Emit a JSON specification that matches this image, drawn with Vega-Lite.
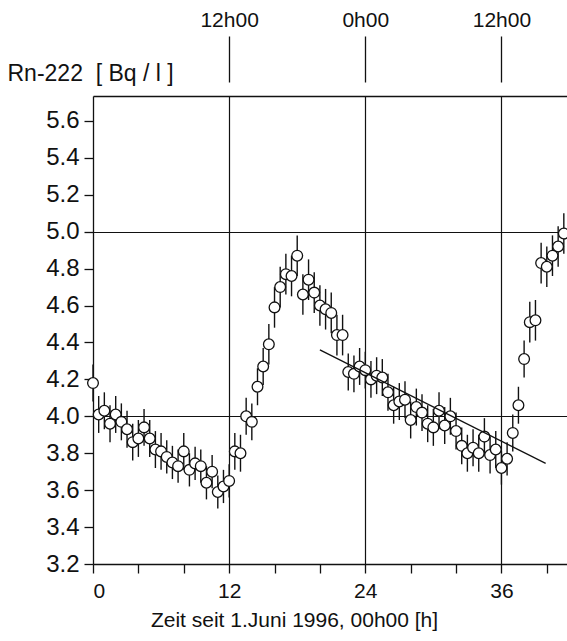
{
  "$schema": "https://vega.github.io/schema/vega-lite/v6.json",
  "width": 474,
  "height": 468,
  "autosize": {"type": "none"},
  "padding": {"left": 93, "top": 96, "right": 0, "bottom": 77},
  "background": "white",
  "config": {
    "view": {"stroke": null},
    "font": "Liberation Sans",
    "axis": {
      "domainColor": "#111", "tickColor": "#111", "labelColor": "#111", "titleColor": "#111",
      "gridColor": "#111", "domainWidth": 1.3, "tickWidth": 1.3, "gridWidth": 1.2,
      "labelFont": "Liberation Sans", "titleFont": "Liberation Sans", "titleFontWeight": "normal"
    }
  },
  "datasets": {
    "radon": [
      {"t": 0, "v": 4.18, "err": 0.1}, {"t": 0.5, "v": 4.01, "err": 0.1}, {"t": 1.0, "v": 4.03, "err": 0.1},
      {"t": 1.5, "v": 3.96, "err": 0.1}, {"t": 2.0, "v": 4.01, "err": 0.1}, {"t": 2.5, "v": 3.97, "err": 0.1},
      {"t": 3.0, "v": 3.93, "err": 0.1}, {"t": 3.5, "v": 3.86, "err": 0.1}, {"t": 4.0, "v": 3.88, "err": 0.1},
      {"t": 4.5, "v": 3.94, "err": 0.1}, {"t": 5.0, "v": 3.88, "err": 0.1}, {"t": 5.5, "v": 3.82, "err": 0.1},
      {"t": 6.0, "v": 3.81, "err": 0.1}, {"t": 6.5, "v": 3.78, "err": 0.09}, {"t": 7.0, "v": 3.75, "err": 0.09},
      {"t": 7.5, "v": 3.73, "err": 0.09}, {"t": 8.0, "v": 3.81, "err": 0.1}, {"t": 8.5, "v": 3.71, "err": 0.09},
      {"t": 9.0, "v": 3.745, "err": 0.09}, {"t": 9.5, "v": 3.73, "err": 0.09}, {"t": 10.0, "v": 3.64, "err": 0.09},
      {"t": 10.5, "v": 3.70, "err": 0.09}, {"t": 11.0, "v": 3.59, "err": 0.09}, {"t": 11.5, "v": 3.62, "err": 0.09},
      {"t": 12.0, "v": 3.65, "err": 0.09}, {"t": 12.5, "v": 3.81, "err": 0.1}, {"t": 13.0, "v": 3.80, "err": 0.1},
      {"t": 13.5, "v": 4.00, "err": 0.1}, {"t": 14.0, "v": 3.97, "err": 0.1}, {"t": 14.5, "v": 4.16, "err": 0.1},
      {"t": 15.0, "v": 4.27, "err": 0.1}, {"t": 15.5, "v": 4.39, "err": 0.11}, {"t": 16.0, "v": 4.59, "err": 0.11},
      {"t": 16.5, "v": 4.70, "err": 0.11}, {"t": 17.0, "v": 4.77, "err": 0.11}, {"t": 17.5, "v": 4.76, "err": 0.11},
      {"t": 18.0, "v": 4.87, "err": 0.11}, {"t": 18.5, "v": 4.66, "err": 0.11}, {"t": 19.0, "v": 4.74, "err": 0.11},
      {"t": 19.5, "v": 4.67, "err": 0.11}, {"t": 20.0, "v": 4.60, "err": 0.11}, {"t": 20.5, "v": 4.58, "err": 0.11},
      {"t": 21.0, "v": 4.56, "err": 0.11}, {"t": 21.5, "v": 4.44, "err": 0.11}, {"t": 22.0, "v": 4.44, "err": 0.11},
      {"t": 22.5, "v": 4.24, "err": 0.1}, {"t": 23.0, "v": 4.23, "err": 0.1}, {"t": 23.5, "v": 4.27, "err": 0.1},
      {"t": 24.0, "v": 4.25, "err": 0.1}, {"t": 24.5, "v": 4.20, "err": 0.1}, {"t": 25.0, "v": 4.22, "err": 0.1},
      {"t": 25.5, "v": 4.21, "err": 0.1}, {"t": 26.0, "v": 4.13, "err": 0.1}, {"t": 26.5, "v": 4.06, "err": 0.1},
      {"t": 27.0, "v": 4.08, "err": 0.1}, {"t": 27.5, "v": 4.09, "err": 0.1}, {"t": 28.0, "v": 3.98, "err": 0.1},
      {"t": 28.5, "v": 4.05, "err": 0.1}, {"t": 29.0, "v": 4.02, "err": 0.1}, {"t": 29.5, "v": 3.96, "err": 0.1},
      {"t": 30.0, "v": 3.94, "err": 0.1}, {"t": 30.5, "v": 4.03, "err": 0.1}, {"t": 31.0, "v": 3.95, "err": 0.1},
      {"t": 31.5, "v": 4.00, "err": 0.1}, {"t": 32.0, "v": 3.92, "err": 0.1}, {"t": 32.5, "v": 3.84, "err": 0.1},
      {"t": 33.0, "v": 3.80, "err": 0.1}, {"t": 33.5, "v": 3.83, "err": 0.1}, {"t": 34.0, "v": 3.80, "err": 0.1},
      {"t": 34.5, "v": 3.89, "err": 0.1}, {"t": 35.0, "v": 3.79, "err": 0.1}, {"t": 35.5, "v": 3.82, "err": 0.1},
      {"t": 36.0, "v": 3.72, "err": 0.09}, {"t": 36.5, "v": 3.77, "err": 0.09}, {"t": 37.0, "v": 3.91, "err": 0.1},
      {"t": 37.5, "v": 4.06, "err": 0.1}, {"t": 38.0, "v": 4.31, "err": 0.1}, {"t": 38.5, "v": 4.51, "err": 0.11},
      {"t": 39.0, "v": 4.52, "err": 0.11}, {"t": 39.5, "v": 4.83, "err": 0.11}, {"t": 40.0, "v": 4.81, "err": 0.11},
      {"t": 40.5, "v": 4.87, "err": 0.11}, {"t": 41.0, "v": 4.92, "err": 0.11}, {"t": 41.5, "v": 4.99, "err": 0.11}
    ],
    "fit": [{"t": 20.0, "v": 4.36}, {"t": 39.9, "v": 3.745}]
  },
  "resolve": {"axis": {"x": "independent"}},
  "layer": [
    {
      "data": {"name": "radon"},
      "mark": {"type": "errorbar", "color": "#111", "thickness": 1.4},
      "encoding": {
        "x": {
          "field": "t", "type": "quantitative",
          "scale": {"domain": [0, 41.78], "nice": false, "zero": false},
          "axis": {
            "orient": "bottom", "values": [0, 4, 8, 12, 16, 20, 24, 28, 32, 36, 40],
            "labelExpr": "datum.value % 12 === 0 ? datum.label : ''",
            "tickSize": 9, "labelPadding": 7, "labelFontSize": 21, "grid": false,
            "title": "Zeit seit 1.Juni 1996, 00h00 [h]", "titleFontSize": 21,
            "titleX": 201, "titleY": 62, "titleAlign": "center", "titleBaseline": "alphabetic"
          }
        },
        "y": {
          "field": "v", "type": "quantitative",
          "scale": {"domain": [3.2, 5.735], "nice": false, "zero": false},
          "axis": {
            "orient": "left",
            "values": [3.2, 3.4, 3.6, 3.8, 4.0, 4.2, 4.4, 4.6, 4.8, 5.0, 5.2, 5.4, 5.6],
            "format": ".1f", "tickSize": 9, "labelPadding": 5, "labelFontSize": 24,
            "grid": true,
            "gridOpacity": {"condition": {"test": "datum.value == 4 || datum.value == 5", "value": 1}, "value": 0},
            "title": "Rn-222\u00a0 [ Bq / l ]", "titleAngle": 0, "titleAlign": "left",
            "titleBaseline": "alphabetic", "titleX": -86, "titleY": -16, "titleFontSize": 23
          }
        },
        "yError": {"field": "err"}
      }
    },
    {
      "data": {"name": "radon"},
      "mark": {"type": "point", "shape": "circle", "filled": true, "fill": "white", "stroke": "#111", "strokeWidth": 1.3, "size": 115, "opacity": 1},
      "encoding": {
        "x": {"field": "t", "type": "quantitative", "scale": {"domain": [0, 41.78], "nice": false, "zero": false}, "axis": null},
        "y": {
          "field": "v", "type": "quantitative",
          "scale": {"domain": [3.2, 5.735], "nice": false, "zero": false},
          "axis": {
            "orient": "left",
            "values": [3.2, 3.4, 3.6, 3.8, 4.0, 4.2, 4.4, 4.6, 4.8, 5.0, 5.2, 5.4, 5.6],
            "format": ".1f", "tickSize": 9, "labelPadding": 5, "labelFontSize": 24,
            "grid": true,
            "gridOpacity": {"condition": {"test": "datum.value == 4 || datum.value == 5", "value": 1}, "value": 0},
            "title": "Rn-222\u00a0 [ Bq / l ]", "titleAngle": 0, "titleAlign": "left",
            "titleBaseline": "alphabetic", "titleX": -86, "titleY": -16, "titleFontSize": 23
          }
        }
      }
    },
    {
      "data": {"name": "fit"},
      "mark": {"type": "line", "color": "#111", "strokeWidth": 1.3},
      "encoding": {
        "x": {
          "field": "t", "type": "quantitative",
          "scale": {"domain": [0, 41.78], "nice": false, "zero": false},
          "axis": {
            "orient": "top", "values": [12, 24, 36],
            "labelExpr": "datum.value == 24 ? '0h00' : '12h00'",
            "tickSize": 60, "tickDash": [0, 14, 46, 10], "labelPadding": 6, "labelFontSize": 21,
            "grid": true, "domain": true, "title": null
          }
        },
        "y": {
          "field": "v", "type": "quantitative",
          "scale": {"domain": [3.2, 5.735], "nice": false, "zero": false},
          "axis": {
            "orient": "left",
            "values": [3.2, 3.4, 3.6, 3.8, 4.0, 4.2, 4.4, 4.6, 4.8, 5.0, 5.2, 5.4, 5.6],
            "format": ".1f", "tickSize": 9, "labelPadding": 5, "labelFontSize": 24,
            "grid": true,
            "gridOpacity": {"condition": {"test": "datum.value == 4 || datum.value == 5", "value": 1}, "value": 0},
            "title": "Rn-222\u00a0 [ Bq / l ]", "titleAngle": 0, "titleAlign": "left",
            "titleBaseline": "alphabetic", "titleX": -86, "titleY": -16, "titleFontSize": 23
          }
        }
      }
    }
  ]
}
